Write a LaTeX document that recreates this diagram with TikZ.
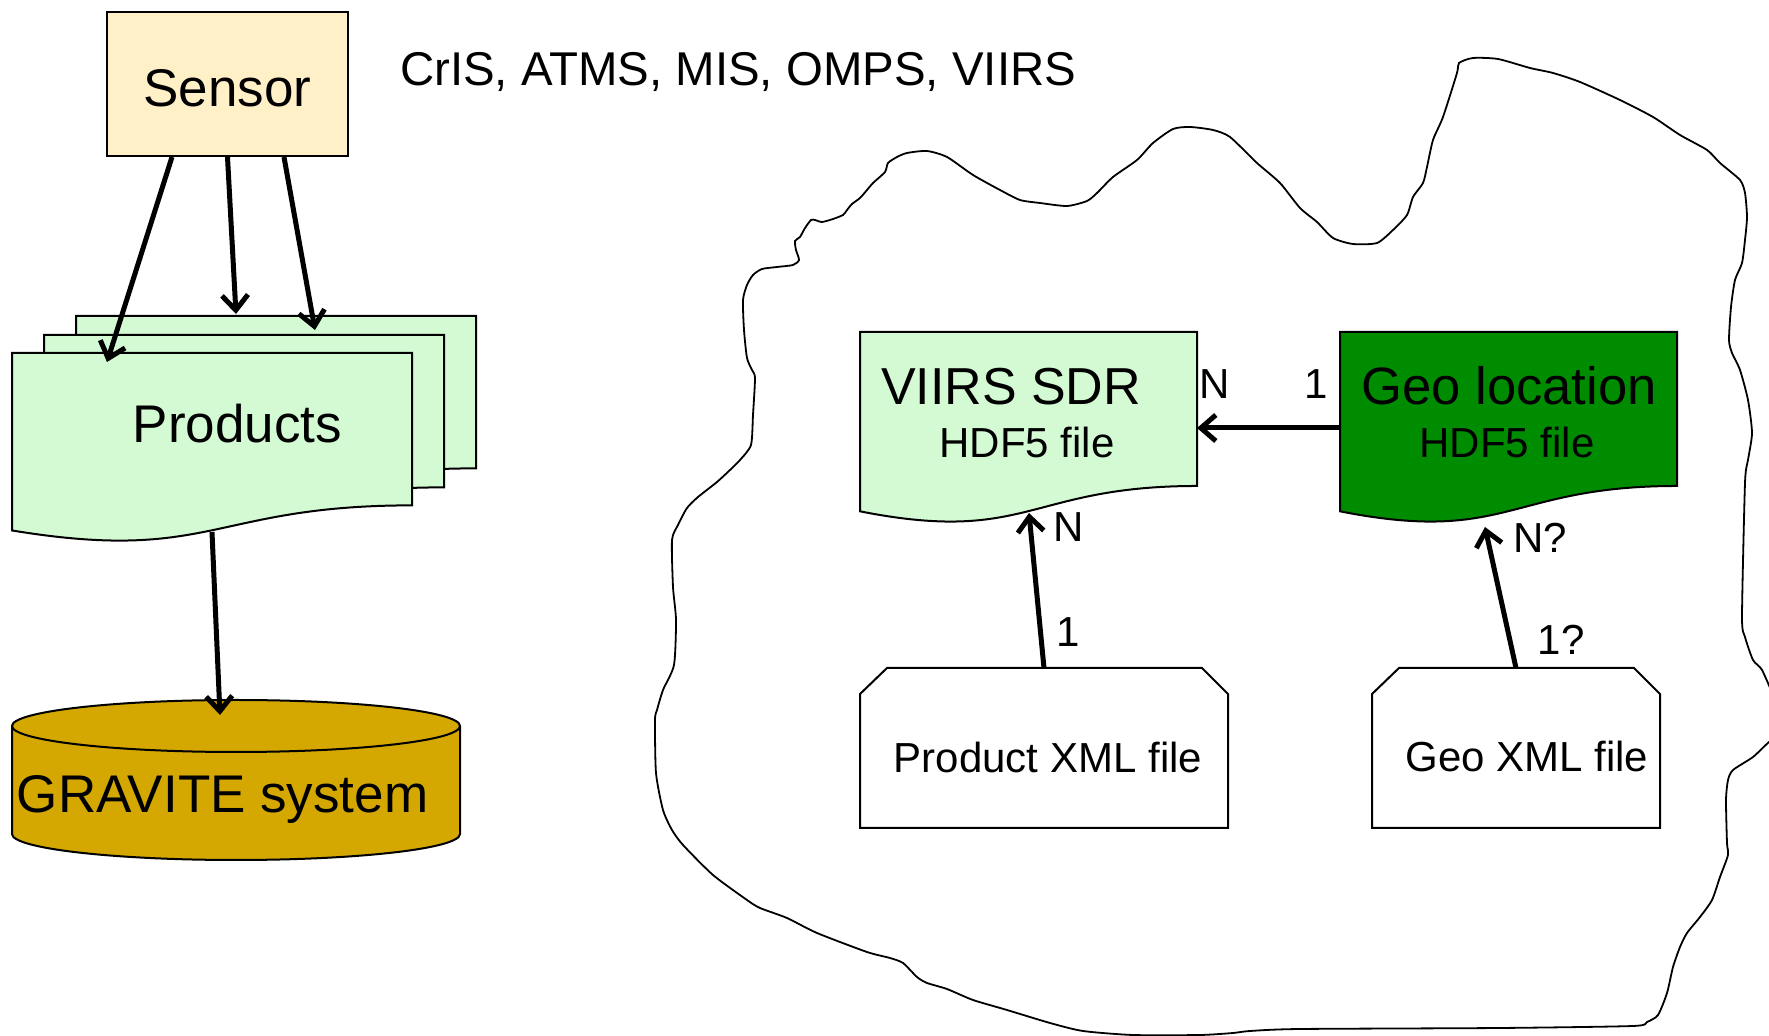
\documentclass[tikz,border=0pt]{standalone}
\usepackage{fontspec}
\setmainfont{Liberation Sans}
\usetikzlibrary{arrows.meta,calc}
\definecolor{sensorfill}{RGB}{255,240,200}
\definecolor{lightgreen}{RGB}{212,250,212}
\definecolor{darkgreen}{RGB}{0,140,0}
\definecolor{goldfill}{RGB}{212,168,0}
\newcommand\fsz[1]{\fontsize{#1}{#1}\selectfont}
\begin{document}
\begin{tikzpicture}[x=0.5pt,y=-0.5pt,
  outline/.style={draw=black, line width=1pt},
  holder/.style={inner sep=0pt, outer sep=0pt, draw=none},
  txt/.style={inner sep=0pt, outer sep=0pt},
  conn/.style={line width=2.5pt, -{Straight Barb[length=7.5pt,width=13pt]}},
  docpath/.style={insert path={(#1.north west) -- (#1.north east) -- ($(#1.north east)!0.802!(#1.south east)$)
     .. controls ($(#1.north)!0.802!(#1.south)$) and ($(#1.north)!1.1075!(#1.south)$) .. ($(#1.north west)!0.934!(#1.south west)$) -- cycle}},
  cardpath/.style={insert path={($(#1.north west)+(0,26)$) -- ($(#1.north west)+(27,0)$) -- ($(#1.north east)+(-26,0)$) -- ($(#1.north east)+(0,26)$) -- (#1.south east) -- (#1.south west) -- cycle}}
]
\useasboundingbox (0,0) rectangle (1769,1036);

% cloud
\begin{scope}
\clip (0,0) rectangle (1769,1036);
\draw[line width=0.9pt] plot[smooth cycle, tension=0.4] coordinates {
(1459,63) (1473,58) (1498,59) (1530,68) (1553,73) (1580,82) (1620,100) (1653,117) (1680,135) (1707,150) (1720,163) (1740,180) (1745,193) (1747,217) (1745,240) (1742,263) (1735,280) (1731,307) (1729,340) (1732,353) (1740,370) (1748,400) (1752,433) (1748,460) (1745,483) (1742,617) (1745,637) (1753,660) (1762,670) (1775,700) (1785,730) (1769,742) (1753,757) (1733,770) (1728,780) (1726,800) (1727,843) (1728,855) (1720,877) (1712,900) (1700,917) (1687,933) (1680,947) (1673,967) (1667,993) (1658,1015) (1647,1022) (1633,1026) (1500,1028) (1300,1029) (1250,1031) (1233,1033) (1200,1035) (1133,1035) (1083,1031) (1050,1023) (1007,1010) (973,1000) (947,989) (927,983) (917,977) (903,963) (890,958) (867,952) (817,933) (787,918) (760,908) (747,900) (713,875) (683,845) (672,830) (663,810) (656,773) (655,720) (657,710) (663,690) (674,665) (676,620) (673,587) (672,540) (678,525) (687,508) (698,497) (717,482) (730,470) (740,460) (751,445) (753,415) (755,378) (752,370) (747,358) (744,330) (743,300) (747,285) (753,275) (762,269) (777,267) (793,265) (799,260) (796,250) (795,241) (800,237) (805,228) (811,220) (815,220) (822,222) (833,219) (843,215) (847,210) (852,204) (860,198) (867,190) (873,183) (885,172) (888,163) (897,157) (907,153) (927,151) (947,157) (973,175) (1000,190) (1020,200) (1040,203) (1067,206) (1087,201) (1097,193) (1113,177) (1137,160) (1153,143) (1173,129) (1190,127) (1213,130) (1230,137) (1257,163) (1280,183) (1300,208) (1317,222) (1333,238) (1353,244) (1377,243) (1393,230) (1407,215) (1413,197) (1423,183) (1427,167) (1433,140) (1443,117) (1457,73)};
\end{scope}

% left part
\node[outline, fill=sensorfill, minimum width=120.5pt, minimum height=72pt, inner sep=0pt, text height=23pt, text depth=0pt, font=\fsz{26.5}] (sensor) at (227.5,84) {Sensor};
\node[txt, anchor=base west, font=\fsz{23.7}] (sats) at (400,86) {CrIS, ATMS, MIS, OMPS, VIIRS};

\node[holder, minimum width=200pt, minimum height=95pt] (pg3) at (276,411) {};
\node[holder, minimum width=200pt, minimum height=95pt] (pg2) at (244,430) {};
\node[holder, minimum width=200pt, minimum height=95pt] (pg1) at (212,448) {};
\path[outline, fill=lightgreen, docpath=pg3];
\path[outline, fill=lightgreen, docpath=pg2];
\path[outline, fill=lightgreen, docpath=pg1];
\node[txt, anchor=base, font=\fsz{26.5}] (prodtxt) at (237.5,443) {Products};

\node[holder, minimum width=224pt, minimum height=80pt] (grav) at (236,780) {};
\path[outline, fill=goldfill] (12,726) -- (12,834) .. controls (12,848.4) and (112.3,860) .. (236,860) .. controls (359.7,860) and (460,848.4) .. (460,834) -- (460,726) .. controls (460,711.6) and (359.7,700) .. (236,700) .. controls (112.3,700) and (12,711.6) .. (12,726) -- cycle;
\draw[line width=1pt] (12,726) .. controls (12,740.4) and (112.3,752) .. (236,752) .. controls (359.7,752) and (460,740.4) .. (460,726);
\node[txt, anchor=base west, font=\fsz{26.5}] (gravtxt) at (17,813) {GRAVITE system};

\draw[conn] ([xshift=-27.75pt]sensor.south) -- ($(pg1.north west)+(95,9)$);
\draw[conn] (sensor.south) -- ($(pg3.north west)+(160,-2)$);
\draw[conn] ([xshift=28.25pt]sensor.south) -- ($(pg3.north west)+(239,14)$);
\draw[conn] ([yshift=5.5pt]pg1.south) -- ($(grav.north)+(-16,15)$);

% right part
\node[holder, minimum width=168.5pt, minimum height=96pt] (viirs) at (1028.5,428) {};
\node[holder, minimum width=168.5pt, minimum height=96pt] (geo) at (1508.5,428) {};
\path[outline, fill=lightgreen, docpath=viirs];
\path[outline, fill=darkgreen, docpath=geo];
\node[txt, anchor=base west, font=\fsz{26}] (viirstxt) at (881,405) {VIIRS SDR};
\node[txt, anchor=base, font=\fsz{21}] (viirshdf) at (1027,458) {HDF5 file};
\node[txt, anchor=base, font=\fsz{26.3}] (geotxt) at (1509,405) {Geo location};
\node[txt, anchor=base, font=\fsz{21}] (geohdf) at (1507,458) {HDF5 file};

\node[holder, minimum width=184pt, minimum height=80pt] (pxml) at (1044,748) {};
\node[holder, minimum width=144pt, minimum height=80pt] (gxml) at (1516,748) {};
\path[outline, fill=white, cardpath=pxml];
\path[outline, fill=white, cardpath=gxml];
\node[txt, anchor=base, font=\fsz{21}] (pxmltxt) at (1048,773) {Product XML file};
\node[txt, anchor=base, font=\fsz{21}] (gxmltxt) at (1527,772) {Geo XML file};

\draw[conn] (geo.west) -- (viirs.east);
\draw[conn] (pxml.north) -- ($(viirs.south)+(0.5,-11)$);
\draw[conn] (gxml.north) -- ($(geo.south)+(-23.5,3)$);

\node[txt, anchor=base, font=\fsz{21}] (lbN1) at (1215,399) {N};
\node[txt, anchor=base, font=\fsz{21}] (lb11) at (1316,399) {1};
\node[txt, anchor=base, font=\fsz{21}] (lbN2) at (1069,542) {N};
\node[txt, anchor=base, font=\fsz{21}] (lb12) at (1068,647) {1};
\node[txt, anchor=base, font=\fsz{21}] (lbN3) at (1540,553) {N?};
\node[txt, anchor=base, font=\fsz{21}] (lb13) at (1561,655) {1?};
\end{tikzpicture}
\end{document}
